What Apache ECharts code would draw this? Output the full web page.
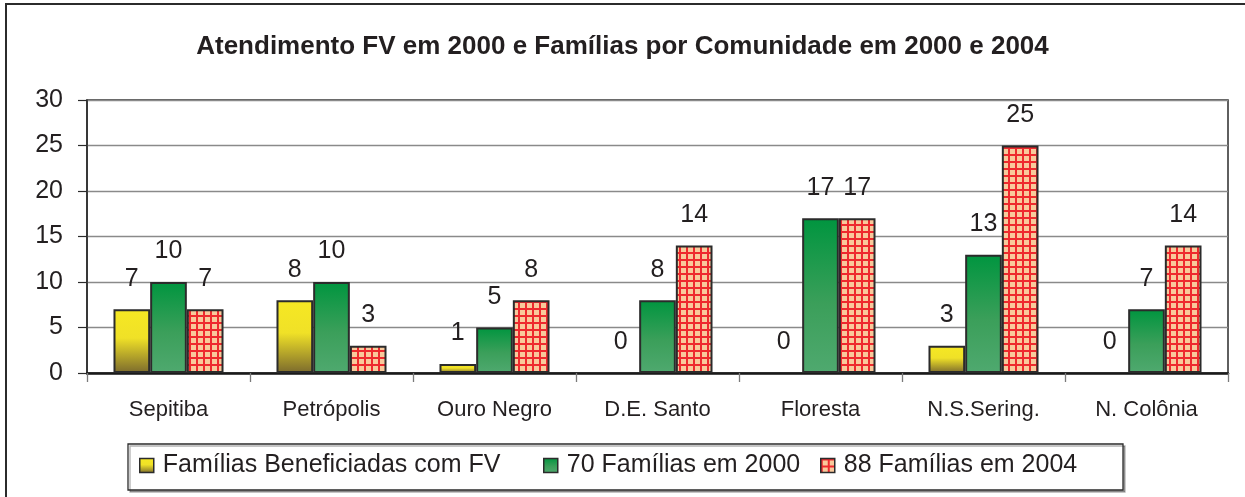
<!DOCTYPE html>
<html>
<head>
<meta charset="utf-8">
<script src="https://cdn.jsdelivr.net/npm/echarts@6/dist/echarts.min.js"></script>
<style>
  html, body { margin: 0; padding: 0; background: #fff; }
  #chart { width: 1245px; height: 497px; }
</style>
</head>
<body>
<div id="chart"></div>
<script>
// Communities and family counts per series
const categories = ['Sepitiba', 'Petrópolis', 'Ouro Negro', 'D.E. Santo', 'Floresta', 'N.S.Sering.', 'N. Colônia'];
const beneficiadas = [7, 8, 1, 0, 0, 3, 0];
const familias2000 = [10, 10, 5, 8, 17, 13, 7];
const familias2004 = [7, 3, 8, 14, 17, 25, 14];
const seriesNames = ['Famílias Beneficiadas com FV', '70 Famílias em 2000', '88 Famílias em 2004'];
const yMin = 0, yMax = 30, yStep = 5;

const FONT = '"Liberation Sans", Arial, sans-serif';
const NARROW = '"Liberation Sans Narrow", "Liberation Sans", Arial, sans-serif';

// Peach background with a red grid, repeated as a fill pattern
function checkPattern() {
  const c = document.createElement('canvas');
  c.width = 7; c.height = 7;
  const g = c.getContext('2d');
  g.fillStyle = '#f9c99b';
  g.fillRect(0, 0, 7, 7);
  g.fillStyle = '#ee2a2e';
  g.fillRect(0, 0, 2, 7);
  g.fillRect(0, 0, 7, 2);
  return c;
}

const yellowFill = {
  type: 'linear', x: 0, y: 0, x2: 0, y2: 1,
  colorStops: [
    { offset: 0, color: '#f6e823' },
    { offset: 0.45, color: '#f0e127' },
    { offset: 1, color: '#7b6a2d' }
  ]
};
const greenFill = {
  type: 'linear', x: 0, y: 0, x2: 0, y2: 1,
  colorStops: [
    { offset: 0, color: '#00953f' },
    { offset: 0.55, color: '#3b9f5a' },
    { offset: 1, color: '#4fa96f' }
  ]
};
const redFill = { image: checkPattern(), repeat: 'repeat' };

const barBase = {
  type: 'bar',
  barWidth: '22.5%',
  barGap: '0%',
  label: {
    show: true,
    position: 'top',
    distance: 18,
    fontFamily: FONT,
    fontSize: 25,
    color: '#231f20'
  }
};

function itemStyle(fill) {
  return { color: fill, borderColor: '#2b2b2b', borderWidth: 2 };
}

// Zero-valued bars keep their label but draw no outline
function barData(values) {
  return values.map(v => v === 0 ? { value: v, itemStyle: { borderWidth: 0 } } : v);
}

function legendAt(name, left) {
  return {
    data: [name],
    left: left,
    top: 453,
    padding: 0,
    itemWidth: 14,
    itemHeight: 14,
    icon: 'rect',
    selectedMode: false,
    itemStyle: { borderColor: '#2b2b2b', borderWidth: 1.5 },
    textStyle: { fontFamily: FONT, fontSize: 25, color: '#231f20', padding: [0, 0, 0, 4] }
  };
}

const chart = echarts.init(document.getElementById('chart'), null, { renderer: 'canvas' });
chart.setOption({
  backgroundColor: '#ffffff',
  animation: false,
  title: {
    text: 'Atendimento FV em 2000 e Famílias por Comunidade em 2000 e 2004',
    left: 'center',
    top: 29,
    textStyle: { fontFamily: NARROW, fontWeight: 'bold', fontSize: 26, color: '#231f20' }
  },
  graphic: [
    {
      type: 'rect', z: -1,
      shape: { x: 6, y: 4, width: 1300, height: 600 },
      style: { fill: 'none', stroke: '#2b2b2b', lineWidth: 2 }
    },
    {
      type: 'rect', z: -1,
      shape: { x: 128, y: 444, width: 995, height: 46 },
      style: { fill: '#fff', stroke: '#2b2b2b', lineWidth: 1.3, shadowColor: 'rgba(0,0,0,0.3)', shadowOffsetX: 2, shadowOffsetY: 2 }
    }
  ],
  legend: [
    legendAt(seriesNames[0], 139),
    legendAt(seriesNames[1], 543),
    legendAt(seriesNames[2], 820)
  ],
  grid: {
    left: 87, right: 17, top: 100, bottom: 124,
    show: true,
    borderColor: '#2b2b2b',
    borderWidth: 1.5,
    backgroundColor: 'transparent'
  },
  xAxis: {
    type: 'category',
    data: categories,
    axisLine: { show: true, lineStyle: { color: '#1a1a1a', width: 2.5 } },
    axisTick: { show: true, length: 9, lineStyle: { color: '#7a7a7a', width: 1.3 } },
    axisLabel: { margin: 26, fontFamily: FONT, fontSize: 22, color: '#231f20' }
  },
  yAxis: {
    type: 'value',
    min: yMin, max: yMax, interval: yStep,
    axisLine: { show: true, lineStyle: { color: '#2b2b2b', width: 1.5 } },
    axisTick: { show: true, length: 9, lineStyle: { color: '#2b2b2b', width: 1.2 } },
    axisLabel: { margin: 24, fontFamily: FONT, fontSize: 25, color: '#231f20' },
    splitLine: { show: true, lineStyle: { color: '#8a8a8a', width: 1.3 } }
  },
  series: [
    Object.assign({}, barBase, { name: seriesNames[0], data: barData(beneficiadas), itemStyle: itemStyle(yellowFill) }),
    Object.assign({}, barBase, { name: seriesNames[1], data: barData(familias2000), itemStyle: itemStyle(greenFill) }),
    Object.assign({}, barBase, { name: seriesNames[2], data: barData(familias2004), itemStyle: itemStyle(redFill) })
  ]
});
</script>
</body>
</html>
